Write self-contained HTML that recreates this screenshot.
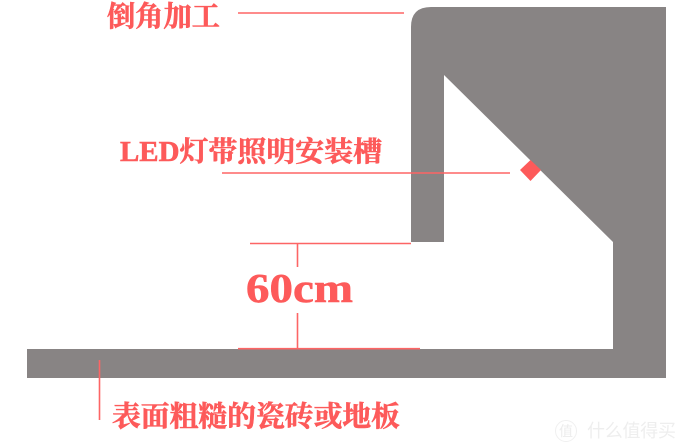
<!DOCTYPE html>
<html lang="zh">
<head>
<meta charset="utf-8">
<style>
html,body{margin:0;padding:0;background:#fff;}
body{width:680px;height:448px;overflow:hidden;position:relative;}
svg{position:absolute;left:0;top:0;display:block;}
text{font-family:"Liberation Serif","Noto Serif CJK SC",serif;font-weight:700;fill:#fd5a5a;}
text.h{stroke:#fd5a5a;stroke-width:.55px;}
</style>
</head>
<body>
<svg width="680" height="448" viewBox="0 0 680 448" xmlns="http://www.w3.org/2000/svg">
  <rect width="680" height="448" fill="#fff"/>
  <!-- Wall / ceiling profile -->
  <path d="M411 242 V27 Q411 7 431 7 H666 V349 H613 V242 L444 75 V242 Z" fill="#888484"/>
  <!-- Floor -->
  <rect x="27" y="349" width="639" height="29" fill="#888484"/>
  <!-- LED diamond -->
  <polygon points="520,170 530.5,160 541,170 530.5,181" fill="#fd5a5a"/>
  <!-- Leader lines -->
  <g stroke="#fd6565" stroke-width="1.6" fill="none">
    <line x1="238" y1="13" x2="404" y2="13"/>
    <line x1="222" y1="173" x2="510" y2="173"/>
    <line x1="250" y1="243.5" x2="411" y2="243.5"/>
    <line x1="297.5" y1="243" x2="297.5" y2="267"/>
    <line x1="297.5" y1="313" x2="297.5" y2="349"/>
    <line x1="238" y1="348.7" x2="420" y2="348.7"/>
    <line x1="99.5" y1="360" x2="99.5" y2="420"/>
  </g>
  <!-- Labels -->
  <text class="h" x="107" y="26" font-size="28.5" textLength="113" lengthAdjust="spacingAndGlyphs">倒角加工</text>
  <text class="h" x="120" y="161" font-size="28" textLength="262" lengthAdjust="spacingAndGlyphs">LED灯带照明安装槽</text>
  <text class="h" x="246" y="302" font-size="41" textLength="107" lengthAdjust="spacingAndGlyphs">60cm</text>
  <text class="h" x="112" y="426" font-size="28.5" textLength="288" lengthAdjust="spacingAndGlyphs">表面粗糙的瓷砖或地板</text>
  <!-- Watermark -->
  <circle cx="566" cy="431" r="10.5" fill="none" stroke="#f0f0f0" stroke-width="1"/>
  <text x="559" y="436" font-size="14" style="fill:#ececec;font-weight:400;font-family:'Liberation Sans','Noto Sans CJK SC',sans-serif">值</text>
  <text x="587" y="437" font-size="18" textLength="89" style="fill:#eeeeee;font-weight:400;font-family:'Liberation Sans','Noto Sans CJK SC',sans-serif">什么值得买</text>
</svg>
</body>
</html>
